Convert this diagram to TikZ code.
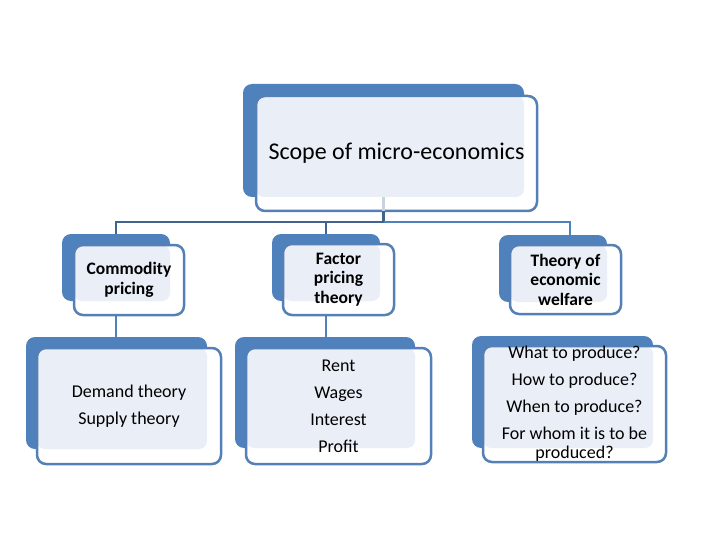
\documentclass[tikz,border=0pt]{standalone}
\usepackage{fontspec}
\setmainfont{Carlito}
\usetikzlibrary{backgrounds}
\definecolor{backblue}{HTML}{4F81BD}
\definecolor{lineblue}{HTML}{5480B6}
\definecolor{lightfill}{HTML}{EAEFF7}
\definecolor{darkline}{HTML}{41638F}
\definecolor{paleline}{HTML}{C9D3E1}
\tikzset{
  backbox/.style={fill=backblue, rounded corners=9pt, inner sep=0pt, outer sep=0pt},
  frontbox/.style={draw=lineblue, line width=2.5pt, rounded corners=9pt, inner sep=0pt, outer sep=0pt, align=center, text=black},
  titlefont/.style={font=\fontsize{24}{28}\selectfont},
  headfont/.style={font=\bfseries\fontsize{17.5}{19.5}\selectfont},
  listfont/.style={font=\fontsize{18}{27}\selectfont},
  conn/.style={draw=backblue, line width=2.5pt},
  darkconn/.style={draw=darkline, line width=2.5pt},
}
\newcommand{\layerbox}[2]{%
  \fill[white, rounded corners=9pt] (#1.north west) rectangle (#1.south east);
  \fill[lightfill, rounded corners=8pt] (#1.north west) rectangle (#2.south east);
}
\begin{document}
\begin{tikzpicture}[x=1pt,y=-1pt]
\useasboundingbox (0,0) rectangle (720,540);

% front boxes (outline + text)
\node[frontbox, titlefont, minimum width=281pt, minimum height=115pt] (tf) at (396.5,153.5) {Scope of micro-economics};
\node[frontbox, headfont, minimum width=110pt, minimum height=70pt] (cf) at (129,280) {Commodity\\pricing};
\node[frontbox, headfont, minimum width=111pt, minimum height=71pt] (ff) at (338.5,279.5) {Factor\\pricing\\theory};
\node[frontbox, headfont, minimum width=111pt, minimum height=69pt] (wf) at (565.5,279.5) {Theory of\\economic\\welfare};
\node[frontbox, listfont, minimum width=184pt, minimum height=116pt] (lf) at (129,406) {Demand theory\\Supply theory};
\node[frontbox, listfont, minimum width=185pt, minimum height=116pt] (mf) at (338.5,406) {Rent\\Wages\\Interest\\Profit};
\node[frontbox, font=\fontsize{18}{19}\selectfont, minimum width=183pt, minimum height=116pt] (rf) at (574.5,404) {What to produce?\\[8pt]How to produce?\\[8pt]When to produce?\\[8pt]For whom it is to be\\produced?};

\begin{pgfonlayer}{background}
\node[backbox, minimum width=281pt, minimum height=113pt] (tb) at (383.5,140.5) {};
\node[backbox, minimum width=108pt, minimum height=67pt] (cb) at (116,267.5) {};
\node[backbox, minimum width=108pt, minimum height=67pt] (fb) at (326,267.5) {};
\node[backbox, minimum width=108pt, minimum height=67pt] (wb) at (553,268.5) {};
\node[backbox, minimum width=181pt, minimum height=112pt] (lb) at (116.5,393) {};
\node[backbox, minimum width=180pt, minimum height=111pt] (mb) at (325,392.5) {};
\node[backbox, minimum width=181pt, minimum height=112pt] (rb) at (562.5,392) {};
\layerbox{tf}{tb}
\layerbox{cf}{cb}
\layerbox{ff}{fb}
\layerbox{wf}{wb}
\layerbox{lf}{lb}
\layerbox{mf}{mb}
\layerbox{rf}{rb}
\end{pgfonlayer}

% connectors
\coordinate (hub) at ([yshift=-11pt]tb.south |- tf.south);
\draw[paleline, line width=2.5pt] (tb.south) -- (tb.south |- tf.south);
\draw[darkconn] (tb.south |- tf.south) -- (hub) -| (cb.north);
\draw[darkconn] (hub) -| (fb.north);
\draw[conn] (hub) -| ([xshift=17pt]wb.north);
\draw[conn] (cb.south |- cf.south) -- (cb.south |- lb.north);
\draw[conn] (fb.south |- ff.south) -- (fb.south |- mb.north);
\end{tikzpicture}
\end{document}
